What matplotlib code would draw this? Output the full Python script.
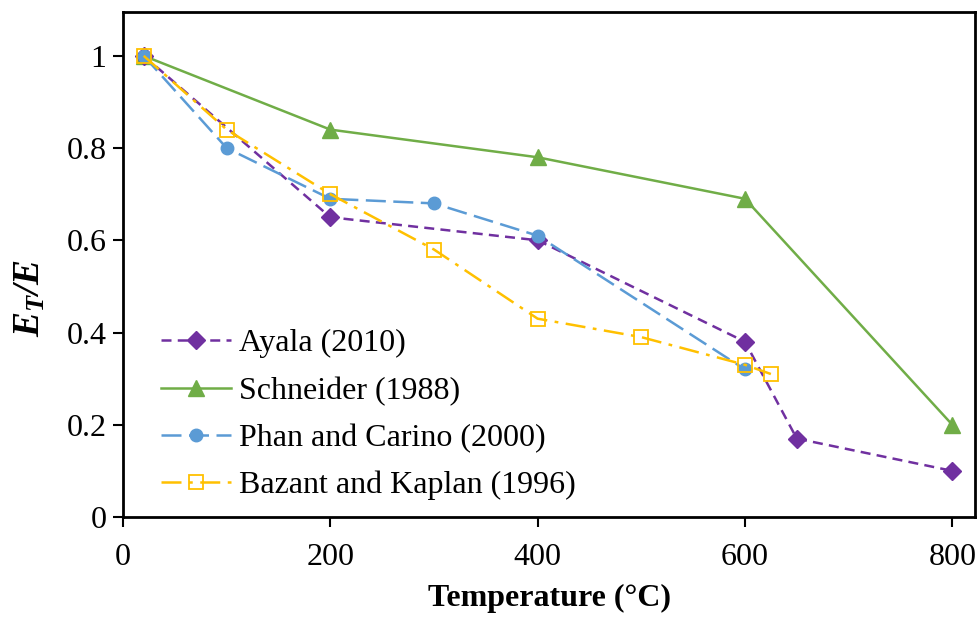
import matplotlib
matplotlib.use("Agg")
import matplotlib.pyplot as plt

plt.rcParams["font.family"] = ["Liberation Serif", "DejaVu Serif"]
plt.rcParams["mathtext.fontset"] = "custom"
plt.rcParams["mathtext.bfit"] = "Liberation Serif:italic:bold"
plt.rcParams["mathtext.rm"] = "Liberation Serif"

# Elastic modulus ratio vs temperature
ayala_t = [20, 200, 400, 600, 650, 800]
ayala_e = [1.0, 0.65, 0.60, 0.38, 0.17, 0.10]

schneider_t = [20, 200, 400, 600, 800]
schneider_e = [1.0, 0.84, 0.78, 0.69, 0.20]

phan_t = [20, 100, 200, 300, 400, 600]
phan_e = [1.0, 0.80, 0.69, 0.68, 0.61, 0.32]

bazant_t = [20, 100, 200, 300, 400, 500, 600, 625]
bazant_e = [1.0, 0.84, 0.70, 0.58, 0.43, 0.39, 0.33, 0.31]

x_ticks = [0, 200, 400, 600, 800]
y_ticks = [0, 0.2, 0.4, 0.6, 0.8, 1.0]
y_tick_labels = ["0", "0.2", "0.4", "0.6", "0.8", "1"]

fig = plt.figure(figsize=(9.8, 6.19), dpi=100)
ax = fig.add_axes([0.1255, 0.1648, 0.8695, 0.8158])

ax.plot(ayala_t, ayala_e, color="#7030A0", linestyle=(0, (4, 2.5)), lw=1.8,
        marker="D", markersize=9, label="Ayala (2010)", zorder=3)
ax.plot(schneider_t, schneider_e, color="#70AD47", linestyle="-", lw=1.8,
        marker="^", markersize=11, label="Schneider (1988)", zorder=2)
ax.plot(phan_t, phan_e, color="#5B9BD5", linestyle=(0, (8, 3)), lw=1.8,
        marker="o", markersize=9, label="Phan and Carino (2000)", zorder=4)
ax.plot(bazant_t, bazant_e, color="#FFC000", linestyle=(0, (8, 3, 1.5, 3)), lw=1.8,
        marker="s", markersize=10, markerfacecolor="none", markeredgewidth=1.3,
        label="Bazant and Kaplan (1996)", zorder=5)

ax.set_xlim(0, 822)
ax.set_ylim(0, 1.095)
ax.set_xticks(x_ticks)
ax.set_yticks(y_ticks)
ax.set_yticklabels(y_tick_labels)
ax.tick_params(direction="out", length=7, width=1.5, labelsize=23, pad=5)
ax.tick_params(axis="x", pad=12)
for s in ax.spines.values():
    s.set_linewidth(2)

ax.set_xlabel("Temperature (°C)", fontsize=23, fontweight="bold", labelpad=8)
ax.set_ylabel(r"$\mathbfit{E_T/E}$", fontsize=27)
ax.yaxis.set_label_coords(-0.088, 0.434)

ax.legend(loc="lower left", bbox_to_anchor=(0.025, 0.0), frameon=False,
          fontsize=23, handlelength=2.2, handletextpad=0.25, labelspacing=0.56,
          borderaxespad=0.12)

fig.savefig("out.png", dpi=100)
